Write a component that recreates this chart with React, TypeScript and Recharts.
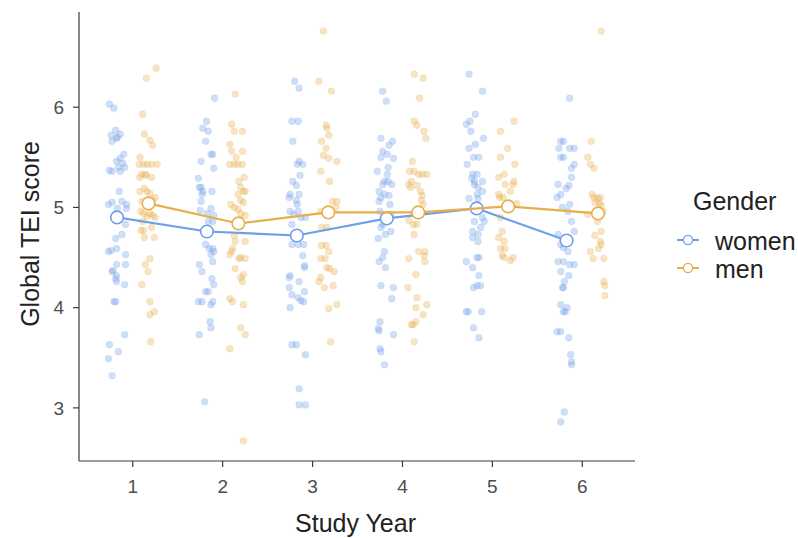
import { Label, Legend, Scatter, ScatterChart, XAxis, YAxis } from "recharts";

type Pt = [number, number];

const years = [1, 2, 3, 4, 5, 6];
const womenMeans = [4.9, 4.76, 4.72, 4.89, 4.99, 4.67];
const menMeans = [5.04, 4.84, 4.95, 4.95, 5.01, 4.94];

// jittered observations: [study year position, TEI score]
const women1: Pt[] = [[0.74,6.03],[0.79,5.99],[0.81,5.77],[0.76,5.72],[0.86,5.73],[0.82,5.69],[0.77,5.66],[0.83,5.7],[0.9,5.53],[0.86,5.49],[0.82,5.46],[0.89,5.44],[0.84,5.4],[0.91,5.4],[0.74,5.37],[0.77,5.36],[0.86,5.36],[0.85,5.16],[0.73,5.03],[0.77,5.05],[0.88,5.06],[0.93,5.03],[0.93,4.99],[0.83,4.99],[0.92,4.83],[0.88,4.73],[0.81,4.69],[0.82,4.59],[0.73,4.56],[0.76,4.57],[0.92,4.53],[0.82,4.43],[0.92,4.43],[0.78,4.37],[0.77,4.36],[0.82,4.32],[0.81,4.29],[0.82,4.26],[0.91,4.23],[0.79,4.06],[0.81,4.06],[0.91,3.73],[0.74,3.63],[0.84,3.56],[0.73,3.49],[0.77,3.32]];
const women2: Pt[] = [[1.91,6.09],[1.82,5.86],[1.78,5.79],[1.84,5.76],[1.81,5.66],[1.87,5.53],[1.89,5.53],[1.76,5.46],[1.9,5.39],[1.73,5.29],[1.74,5.2],[1.76,5.2],[1.78,5.16],[1.88,5.16],[1.77,5.13],[1.76,5.06],[1.75,4.97],[1.87,4.99],[1.83,4.94],[1.9,4.92],[1.84,4.86],[1.89,4.86],[1.81,4.63],[1.85,4.59],[1.89,4.59],[1.87,4.53],[1.9,4.56],[1.89,4.46],[1.74,4.43],[1.77,4.36],[1.88,4.29],[1.9,4.23],[1.84,4.16],[1.81,4.16],[1.73,4.06],[1.77,4.06],[1.87,4.03],[1.89,4.06],[1.86,3.86],[1.87,3.8],[1.74,3.73],[1.8,3.06]];
const women3: Pt[] = [[2.8,6.26],[2.85,6.19],[2.77,5.86],[2.84,5.86],[2.78,5.66],[2.85,5.46],[2.83,5.43],[2.89,5.43],[2.86,5.32],[2.78,5.26],[2.82,5.22],[2.75,5.13],[2.74,5.1],[2.85,5.13],[2.82,5.07],[2.83,5.03],[2.75,4.96],[2.84,4.96],[2.79,4.93],[2.92,4.9],[2.87,4.9],[2.77,4.83],[2.77,4.63],[2.84,4.63],[2.9,4.63],[2.89,4.52],[2.91,4.42],[2.91,4.4],[2.74,4.3],[2.75,4.32],[2.85,4.26],[2.74,4.2],[2.77,4.13],[2.91,4.16],[2.84,4.1],[2.87,4.07],[2.9,4.06],[2.75,4.0],[2.77,3.63],[2.82,3.63],[2.92,3.53],[2.85,3.19],[2.85,3.03],[2.92,3.03]];
const women4: Pt[] = [[3.78,6.16],[3.82,6.06],[3.76,5.69],[3.89,5.66],[3.85,5.62],[3.78,5.56],[3.83,5.53],[3.9,5.49],[3.76,5.5],[3.84,5.4],[3.83,5.33],[3.72,5.36],[3.8,5.26],[3.84,5.26],[3.88,5.23],[3.78,5.23],[3.74,5.16],[3.8,5.13],[3.76,5.1],[3.85,5.12],[3.74,5.06],[3.86,5.03],[3.75,4.96],[3.87,4.93],[3.78,4.83],[3.76,4.8],[3.81,4.73],[3.87,4.76],[3.73,4.69],[3.8,4.56],[3.78,4.5],[3.74,4.46],[3.81,4.4],[3.76,4.22],[3.9,4.2],[3.88,4.09],[3.75,3.86],[3.73,3.79],[3.74,3.77],[3.9,3.73],[3.75,3.59],[3.76,3.56],[3.8,3.43]];
const women5: Pt[] = [[4.74,6.33],[4.89,6.16],[4.81,5.93],[4.75,5.86],[4.71,5.83],[4.76,5.76],[4.9,5.69],[4.74,5.59],[4.81,5.63],[4.79,5.5],[4.85,5.5],[4.72,5.43],[4.78,5.33],[4.83,5.33],[4.77,5.29],[4.8,5.26],[4.89,5.26],[4.8,5.23],[4.84,5.2],[4.89,5.16],[4.83,5.13],[4.74,5.09],[4.84,5.09],[4.89,4.9],[4.91,4.86],[4.8,4.86],[4.87,4.8],[4.78,4.76],[4.84,4.73],[4.78,4.7],[4.84,4.66],[4.83,4.5],[4.85,4.5],[4.71,4.46],[4.78,4.4],[4.85,4.32],[4.79,4.2],[4.83,4.22],[4.87,4.22],[4.71,3.96],[4.73,3.96],[4.88,3.96],[4.79,3.8],[4.85,3.7]];
const women6: Pt[] = [[5.86,6.09],[5.76,5.66],[5.79,5.66],[5.86,5.59],[5.91,5.59],[5.74,5.59],[5.76,5.5],[5.79,5.5],[5.88,5.39],[5.91,5.43],[5.88,5.3],[5.73,5.23],[5.85,5.22],[5.82,5.19],[5.76,5.13],[5.72,5.1],[5.86,5.03],[5.78,5.0],[5.84,4.96],[5.88,4.86],[5.91,4.76],[5.73,4.73],[5.76,4.63],[5.79,4.6],[5.84,4.56],[5.73,4.46],[5.79,4.46],[5.86,4.43],[5.91,4.43],[5.76,4.36],[5.85,4.32],[5.8,4.26],[5.79,4.2],[5.78,4.2],[5.76,4.03],[5.79,3.96],[5.83,4.0],[5.81,3.96],[5.72,3.76],[5.76,3.76],[5.85,3.7],[5.87,3.53],[5.88,3.46],[5.88,3.43],[5.8,2.96],[5.76,2.86]];

const men1: Pt[] = [[1.26,6.39],[1.15,6.29],[1.11,5.93],[1.13,5.73],[1.19,5.67],[1.22,5.62],[1.08,5.5],[1.07,5.43],[1.12,5.43],[1.16,5.43],[1.21,5.43],[1.27,5.43],[1.1,5.33],[1.14,5.33],[1.15,5.32],[1.21,5.3],[1.08,5.3],[1.08,5.16],[1.13,5.19],[1.16,5.16],[1.19,5.14],[1.25,5.1],[1.22,5.07],[1.1,5.06],[1.09,4.96],[1.12,4.94],[1.19,4.94],[1.16,4.91],[1.25,4.9],[1.22,4.92],[1.11,4.86],[1.21,4.8],[1.09,4.77],[1.12,4.77],[1.13,4.7],[1.24,4.7],[1.19,4.49],[1.14,4.43],[1.17,4.36],[1.1,4.23],[1.19,4.06],[1.24,3.96],[1.19,3.93],[1.2,3.66]];
const men2: Pt[] = [[2.14,6.13],[2.1,5.83],[2.13,5.76],[2.22,5.76],[2.08,5.63],[2.1,5.56],[2.22,5.56],[2.15,5.5],[2.08,5.43],[2.13,5.43],[2.17,5.43],[2.22,5.43],[2.24,5.3],[2.18,5.26],[2.2,5.2],[2.23,5.16],[2.25,5.16],[2.17,5.13],[2.2,5.07],[2.23,5.05],[2.09,5.03],[2.13,5.0],[2.17,4.98],[2.2,4.94],[2.25,4.92],[2.13,4.72],[2.14,4.66],[2.25,4.66],[2.11,4.59],[2.1,4.56],[2.08,4.53],[2.18,4.49],[2.2,4.5],[2.25,4.49],[2.14,4.39],[2.23,4.33],[2.2,4.3],[2.22,4.26],[2.08,4.09],[2.11,4.06],[2.23,4.03],[2.2,3.8],[2.25,3.73],[2.08,3.59],[2.23,2.67]];
const men3: Pt[] = [[3.12,6.76],[3.07,6.26],[3.21,6.16],[3.15,5.82],[3.16,5.79],[3.18,5.72],[3.1,5.66],[3.15,5.59],[3.12,5.52],[3.18,5.49],[3.27,5.46],[3.09,5.36],[3.19,5.26],[3.22,5.06],[3.27,5.06],[3.26,5.0],[3.09,4.96],[3.1,4.8],[3.16,4.8],[3.1,4.62],[3.15,4.62],[3.18,4.56],[3.09,4.49],[3.14,4.49],[3.16,4.4],[3.19,4.39],[3.24,4.36],[3.09,4.3],[3.07,4.26],[3.13,4.2],[3.23,4.22],[3.27,4.03],[3.18,3.99],[3.2,3.66]];
const men4: Pt[] = [[4.13,6.33],[4.23,6.29],[4.19,6.09],[4.13,5.86],[4.16,5.82],[4.24,5.76],[4.26,5.69],[4.11,5.46],[4.08,5.36],[4.13,5.36],[4.18,5.33],[4.22,5.33],[4.27,5.33],[4.1,5.26],[4.07,5.23],[4.09,5.2],[4.16,5.22],[4.2,5.16],[4.22,5.12],[4.23,5.03],[4.21,5.07],[4.07,4.87],[4.12,4.83],[4.16,4.83],[4.13,4.73],[4.18,4.56],[4.25,4.56],[4.24,4.52],[4.25,4.46],[4.07,4.49],[4.15,4.33],[4.06,4.2],[4.16,4.1],[4.15,4.0],[4.27,4.03],[4.23,3.93],[4.15,3.86],[4.12,3.83],[4.1,3.83],[4.13,3.66]];
const men5: Pt[] = [[5.24,5.86],[5.09,5.76],[5.17,5.59],[5.09,5.5],[5.25,5.43],[5.07,5.3],[5.13,5.33],[5.14,5.23],[5.24,5.26],[5.23,5.23],[5.2,5.16],[5.07,5.13],[5.08,5.1],[5.12,5.1],[5.27,5.04],[5.09,4.9],[5.11,4.76],[5.07,4.7],[5.13,4.66],[5.09,4.59],[5.14,4.59],[5.11,4.52],[5.13,4.5],[5.2,4.47],[5.23,4.5]];
const men6: Pt[] = [[6.21,6.76],[6.1,5.66],[6.06,5.5],[6.09,5.43],[6.13,5.39],[6.11,5.13],[6.13,5.1],[6.17,5.09],[6.2,5.1],[6.14,5.05],[6.19,5.04],[6.23,4.96],[6.21,5.02],[6.06,4.93],[6.17,4.86],[6.21,4.76],[6.14,4.72],[6.2,4.66],[6.21,4.63],[6.18,4.59],[6.09,4.56],[6.12,4.49],[6.24,4.49],[6.24,4.26],[6.25,4.22],[6.25,4.12]];

const BLUE = "#6f9fea";
const ORANGE = "#e8ae4a";
const AXIS = "#3a3a3a";
const FONT = "'Liberation Sans', Arial, Helvetica, sans-serif";
const DODGE = 0.175;

const toRows = (groups: Pt[][]) => groups.flat().map(([x, y]) => ({ x, y }));
const womenRows = toRows([women1, women2, women3, women4, women5, women6]);
const menRows = toRows([men1, men2, men3, men4, men5, men6]);
const womenMeanRows = years.map((yr, i) => ({ x: yr - DODGE, y: womenMeans[i] }));
const menMeanRows = years.map((yr, i) => ({ x: yr + DODGE, y: menMeans[i] }));

const jitterDot = (color: string) => (p: any) => (
  <circle cx={p.cx} cy={p.cy} r={3.4} fill={color} fillOpacity={0.33} stroke={color} strokeOpacity={0.2} strokeWidth={0.8} />
);
const meanDot = (color: string) => (p: any) => (
  <circle cx={p.cx} cy={p.cy} r={6.3} fill="#fff" stroke={color} strokeWidth={1.6} />
);

function GenderLegend() {
  const items = [
    { name: "women", color: BLUE, y: 55 },
    { name: "men", color: ORANGE, y: 83 },
  ];
  return (
    <svg width={121} height={100} style={{ overflow: "visible" }}>
      <text x={16} y={25} fontSize={25} fontFamily={FONT} fill="#222">Gender</text>
      {items.map((it) => (
        <g key={it.name}>
          <line x1={0} x2={22} y1={it.y} y2={it.y} stroke={it.color} strokeWidth={2} />
          <circle cx={11} cy={it.y} r={4.6} fill="#fff" stroke={it.color} strokeWidth={1.4} />
          <text x={38} y={it.y + 10} fontSize={25} fontFamily={FONT} fill="#222">{it.name}</text>
        </g>
      ))}
    </svg>
  );
}

export default function App() {
  return (
    <div style={{ position: "absolute", left: 0, top: 0, background: "#fff" }}>
      <ScatterChart width={798} height={538} margin={{ top: 12, right: 163, bottom: 0, left: 0 }} style={{ fontFamily: FONT }}>
        <XAxis
          type="number"
          dataKey="x"
          domain={[0.402, 6.586]}
          ticks={years}
          height={77}
          tickSize={6}
          tickMargin={13}
          axisLine={{ stroke: AXIS, strokeWidth: 1.2 }}
          tickLine={{ stroke: AXIS, strokeWidth: 1.2 }}
          tick={{ fill: "#4d4d4d", fontSize: 19, fontFamily: FONT }}
        >
          <Label value="Study Year" position="center" dx={-1.5} dy={23.5} fontSize={25} fill="#222" fontFamily={FONT} />
        </XAxis>
        <YAxis
          type="number"
          dataKey="y"
          domain={[2.47, 6.95]}
          ticks={[3, 4, 5, 6]}
          width={79}
          tickSize={6}
          tickMargin={9}
          axisLine={{ stroke: AXIS, strokeWidth: 1.2 }}
          tickLine={{ stroke: AXIS, strokeWidth: 1.2 }}
          tick={{ fill: "#4d4d4d", fontSize: 19, fontFamily: FONT }}
        >
          <Label value="Global TEI score" position="center" angle={-90} dx={-9.5} dy={-2.5} fontSize={25} fill="#222" fontFamily={FONT} />
        </YAxis>
        <Scatter data={womenRows} shape={jitterDot(BLUE)} isAnimationActive={false} />
        <Scatter data={menRows} shape={jitterDot(ORANGE)} isAnimationActive={false} />
        <Scatter data={womenMeanRows} line={{ stroke: BLUE, strokeWidth: 2.2 }} shape={meanDot(BLUE)} isAnimationActive={false} />
        <Scatter data={menMeanRows} line={{ stroke: ORANGE, strokeWidth: 2.2 }} shape={meanDot(ORANGE)} isAnimationActive={false} />
        <Legend
          layout="vertical"
          align="center"
          verticalAlign="middle"
          wrapperStyle={{ left: 677, top: 185, width: 121, height: 100 }}
          content={() => <GenderLegend />}
        />
      </ScatterChart>
    </div>
  );
}
